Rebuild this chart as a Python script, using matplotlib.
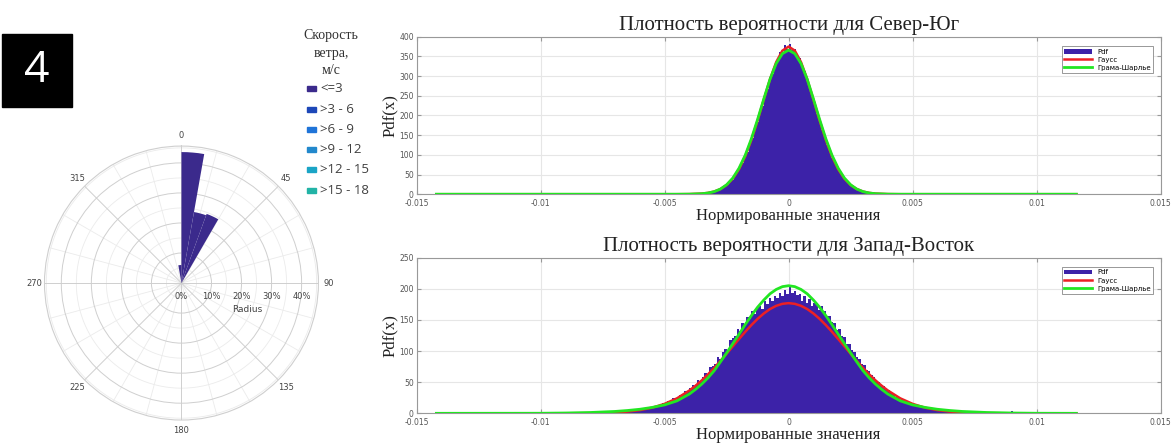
import numpy as np
import matplotlib
matplotlib.use('Agg')
import matplotlib.pyplot as plt
from matplotlib.patches import Rectangle

# wind rose: sector start (deg, clockwise from north) and share of records, %
rose_dir = [350, 0, 10, 20]
rose_pct = [6.0, 43.6, 24.0, 24.5]
speed_classes = ['<=3', '>3 - 6', '>6 - 9', '>9 - 12', '>12 - 15', '>15 - 18']
speed_colors = ['#3b2a8c', '#1d47b8', '#1f74d8', '#2288cc', '#1aa4c6', '#22b3a6']

# histograms of normalised values, bin width 1e-4
bin_w = 0.0001
ns_edge0 = -0.0034
ns_hist = [1, 2, 3, 5, 6, 9, 12, 15, 21, 24, 33, 37, 49, 56, 71, 80, 98, 108,
           131, 144, 170, 183, 212, 225, 256, 268, 297, 306, 331, 338, 362, 358,
           378, 369, 381, 366, 368, 352, 347, 322, 314, 287, 276, 246, 233, 204,
           190, 163, 150, 125, 114, 93, 84, 66, 59, 45, 40, 30, 27, 18, 16, 10,
           11, 6, 4, 2]
we_edge0 = -0.0070
we_hist = [1, 2, 3, 2, 3, 4, 4, 6, 4, 5, 7, 6, 7, 9, 8, 10, 12, 11, 14, 16,
           15, 19, 18, 24, 22, 27, 30, 29, 36, 34, 41, 45, 44, 53, 51, 59, 64, 63,
           74, 76, 80, 90, 88, 99, 104, 102, 117, 121, 124, 136, 133, 145, 143,
           155, 151, 164, 160, 170, 173, 167, 180, 176, 185, 180, 188, 185, 193,
           188, 198, 192,
           203, 194, 196, 190, 191, 181, 188, 178, 184, 173, 178, 176, 166, 172,
           165, 157, 156, 146, 145, 134, 135, 124, 123, 112, 111, 101, 99, 90, 88,
           79, 78, 70, 68, 61, 59, 52, 51, 45, 44, 38, 37, 32, 31, 27, 26, 22, 22,
           19, 18, 15, 15, 13, 12, 10, 10, 8, 8, 7, 7, 5, 5, 5, 4, 4, 3, 3, 3, 2,
           2, 1]
we_tail_x = [0.0090]
we_tail_h = [3]

# fitted curves, one half (x >= 0), mirrored when drawn
x_span = (-0.0142, 0.0116)
ns_cx = [0, 0.00025, 0.0005, 0.00075, 0.001, 0.00125, 0.0015, 0.00175, 0.002,
         0.00225, 0.0025, 0.00275, 0.003, 0.00325, 0.0035, 0.004, 0.0045]
ns_gauss = [375, 364.7, 335.5, 292, 240.3, 187.1, 137.8, 96, 63.2, 39.4, 23.2,
            13, 6.8, 3.4, 1.6, 0.3, 0]
ns_gc = [366, 357, 332, 292, 242, 190, 141, 99, 66, 41, 24, 13, 6.5, 3, 1.3,
         0.2, 0]
we_cx = [0, 0.00025, 0.0005, 0.00075, 0.001, 0.00125, 0.0015, 0.00175, 0.002,
         0.00225, 0.0025, 0.00275, 0.003, 0.00325, 0.0035, 0.00375, 0.004,
         0.0045, 0.005, 0.0055, 0.006, 0.0065, 0.007, 0.008, 0.009, 0.010]
we_gauss = [177, 175.9, 172.7, 167.5, 160.4, 151.8, 141.8, 130.9, 119.4, 107.5,
            95.7, 84.1, 73.0, 62.6, 53.0, 44.4, 36.7, 24.1, 15.2, 9.0, 5.1, 2.8,
            1.4, 0.3, 0.07, 0]
we_gc = [205, 203.5, 199, 192, 182, 170.5, 157, 142.5, 127, 112, 97, 82.5, 68.5,
         57, 47, 38.5, 31, 20, 13.5, 9.5, 6.5, 4.5, 3, 1.3, 0.5, 0.1]

pdf_color = '#3c22a8'
serif = 'Liberation Serif'

fig = plt.figure(figsize=(11.73, 4.44), dpi=100)

# overlay in pixel units for the badge and the speed legend
ov = fig.add_axes([0, 0, 1, 1])
ov.set_xlim(0, 1173)
ov.set_ylim(444, 0)
ov.axis('off')
ov.add_patch(Rectangle((2, 34), 70, 73, color='black'))
ov.text(37, 71, '4', color='white', fontsize=32, family='Open Sans',
        ha='center', va='center')
for i, t in enumerate(['Скорость', 'ветра,', 'м/с']):
    ov.text(331, 35 + i * 18, t, family=serif, fontsize=10, ha='center',
            va='center', color='#333333')
for i, (lab, c) in enumerate(zip(speed_classes, speed_colors)):
    y = 89 + i * 20.2
    ov.add_patch(Rectangle((307, y - 2.5), 9, 5, color=c))
    ov.text(320, y, lab, fontsize=9.5, family='Open Sans', va='center',
            color='#404040')


def mirror(xs, ys):
    x = [x_span[0]] + [-v for v in xs[:0:-1]] + list(xs) + [x_span[1]]
    y = [0] + list(ys[:0:-1]) + list(ys) + [0]
    return x, y


def pdf_panel(rect, title, edge0, hist, cx, gauss, gc, ymax, ystep):
    ax = fig.add_axes(rect)
    edges = edge0 + bin_w * np.arange(len(hist) + 1)
    ax.stairs(hist, edges, fill=True, color=pdf_color, label='Pdf', zorder=2)
    gx, gy = mirror(cx, gauss)
    ax.plot(gx, gy, color='#ec2024', lw=1.8, label='Гаусс', zorder=3)
    hx, hy = mirror(cx, gc)
    ax.plot(hx, hy, color='#22e622', lw=2.0, label='Грама-Шарлье', zorder=4)
    ax.set_xlim(-0.015, 0.015)
    ax.set_ylim(0, ymax)
    ax.set_xticks([-0.015, -0.01, -0.005, 0, 0.005, 0.01, 0.015])
    ax.set_xticklabels(['-0.015', '-0.01', '-0.005', '0', '0.005', '0.01', '0.015'])
    ax.set_yticks(np.arange(0, ymax + 1, ystep))
    ax.grid(True, color='#e6e6e6', lw=0.8)
    ax.set_axisbelow(True)
    ax.tick_params(direction='in', labelsize=5.5, labelcolor='#555555',
                   color='#999999', length=3, top=True, right=True, pad=2)
    ax.tick_params(axis='x', pad=3.5)
    for s in ax.spines.values():
        s.set_color('#999999')
    ax.set_title(title, family=serif, fontsize=15, pad=5, color='#222222')
    ax.set_xlabel('Нормированные значения', family=serif, fontsize=12,
                  labelpad=0, color='#222222')
    ax.set_ylabel('Pdf(x)', family=serif, fontsize=12, labelpad=1,
                  color='#222222')
    leg = ax.legend(loc='upper right', fontsize=5, handlelength=4,
                    borderpad=0.3, labelspacing=0.3, fancybox=False,
                    framealpha=1, edgecolor='#888888',
                    bbox_to_anchor=(0.995, 0.96))
    leg.get_frame().set_linewidth(0.6)
    return ax


pdf_panel([0.3551, 0.5626, 0.6344, 0.3547],
          'Плотность вероятности для Север-Юг',
          ns_edge0, ns_hist, ns_cx, ns_gauss, ns_gc, 400, 50)
ax2 = pdf_panel([0.3551, 0.0691, 0.6344, 0.3505],
                'Плотность вероятности для Запад-Восток',
                we_edge0, we_hist, we_cx, we_gauss, we_gc, 250, 50)
ax2.bar(we_tail_x, we_tail_h, width=bin_w, color=pdf_color, zorder=2)

# wind rose
r_max = 45.6
axp = fig.add_axes([0.0379, 0.054, 0.2336, 0.617], projection='polar')
axp.set_theta_zero_location('N')
axp.set_theta_direction(-1)
axp.bar(np.deg2rad(rose_dir), rose_pct, width=np.deg2rad(10), align='edge',
        color=speed_colors[0], edgecolor='none', zorder=3)
axp.set_ylim(0, r_max)
axp.set_yticks([10, 20, 30, 40])
axp.set_yticklabels([])
axp.set_thetagrids(range(0, 360, 45), labels=[str(a) for a in range(0, 360, 45)])
axp.tick_params(axis='x', pad=-3, labelsize=6, labelcolor='#444444')
axp.grid(True, color='#cfcfcf', lw=0.7)
axp.spines['polar'].set_color('#cfcfcf')
# lighter half-step rings and intermediate spokes
ring = np.linspace(0, 2 * np.pi, 361)
for r in [5, 15, 25, 35, 45]:
    axp.plot(ring, np.full_like(ring, r), color='#ebebeb', lw=0.6, zorder=1)
for a in range(0, 360, 15):
    if a % 45:
        axp.plot([np.deg2rad(a)] * 2, [0, r_max], color='#ebebeb', lw=0.6,
                 zorder=1)
axp.set_ylim(0, r_max)
for r in [0, 10, 20, 30, 40]:
    axp.annotate(f'{r}%', xy=(np.pi / 2, r), xytext=(0, -10),
                 textcoords='offset points', ha='center', va='center',
                 fontsize=6, color='#444444')
axp.annotate('Radius', xy=(np.pi / 2, 21.8), xytext=(0, -18.7),
             textcoords='offset points', ha='center', va='center',
             fontsize=6.5, color='#444444')

fig.savefig('out.png', dpi=100)
